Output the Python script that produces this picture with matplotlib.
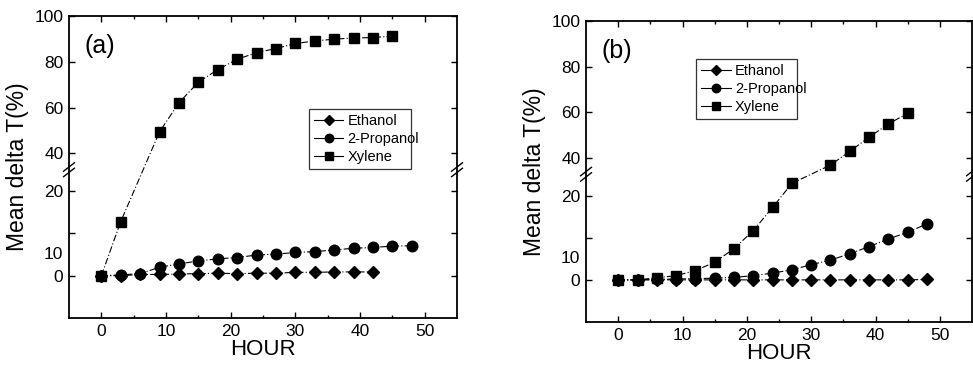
import numpy as np
import matplotlib
matplotlib.use("Agg")
import matplotlib.pyplot as plt

plt.rcParams['font.family'] = ['Liberation Sans', 'DejaVu Sans']

# panel (a)
hours_a = [0, 3, 6, 9, 12, 15, 18, 21, 24, 27, 30, 33, 36, 39, 42, 45, 48]
ethanol_a = [0, 0, 0.3, 0.3, 0.4, 0.5, 0.6, 0.5, 0.6, 0.6, 0.8, 0.8, 0.9, 0.9, 0.9]
propanol_a = [0, 0.2, 0.5, 2.0, 2.8, 3.5, 4.0, 4.3, 4.9, 5.1, 5.5, 5.7, 6.1, 6.5, 6.7, 7.0, 7.1]
xylene_hours_a = [0, 3, 9, 12, 15, 18, 21, 24, 27, 30, 33, 36, 39, 42, 45]
xylene_a = [0, 12.8, 49.4, 62.1, 71.1, 76.6, 81.1, 84.0, 85.8, 88.0, 89.1, 89.9, 90.4, 90.6, 91.2]

# panel (b)
hours_b = [0, 3, 6, 9, 12, 15, 18, 21, 24, 27, 30, 33, 36, 39, 42, 45, 48]
ethanol_b = [0, 0, 0, 0, 0, 0, 0, 0, 0, 0, 0, 0, 0, 0, 0, 0, 0.1]
propanol_b = [0, 0, 0.1, 0.2, 0.3, 0.4, 0.6, 1.0, 1.6, 2.4, 3.6, 4.7, 6.2, 7.9, 9.7, 11.3, 13.3]
xylene_hours_b = [0, 3, 6, 9, 12, 15, 18, 21, 24, 27, 33, 36, 39, 42, 45]
xylene_b = [0, 0, 0.5, 1.0, 2.2, 4.2, 7.4, 11.7, 17.2, 22.9, 36.9, 42.9, 49.1, 54.9, 59.6]

ytick_vals = [0, 10, 20, 40, 60, 80, 100]
ytick_labels = ['0', '', '20', '40', '60', '80', '100']

# broken axis: 25..33 removed, lower part stretched
brk_v = [-10, 25, 33, 100]
brk_h = [0, 49, 49.2, 100]


def fwd(v):
    return np.interp(v, brk_v, brk_h)


def inv(h):
    return np.interp(h, brk_h, brk_v)


def draw_panel(ax, tag, ha, eth, pro, xha, xyl, leg_box):
    ls = (0, (6, 2, 1, 2))
    ax.set_yscale('function', functions=(fwd, inv))
    ax.plot(ha[:len(eth)], eth, linestyle=ls, lw=0.8, color='k', marker='D',
            ms=6.6, label='Ethanol', zorder=4)
    ax.plot(ha[:len(pro)], pro, linestyle=ls, lw=0.8, color='k', marker='o',
            ms=7.6, label='2-Propanol', zorder=3)
    ax.plot(xha, xyl, linestyle=ls, lw=0.8, color='k', marker='s',
            ms=7.4, label='Xylene', zorder=2)
    ax.set_xlim(-5, 55)
    ax.set_ylim(-10, 100)
    ax.set_xticks([0, 10, 20, 30, 40, 50])
    ax.set_xticks([5, 15, 25, 35, 45], minor=True)
    ax.set_yticks(ytick_vals)
    ax.set_yticklabels(ytick_labels)
    ax.yaxis.set_minor_locator(matplotlib.ticker.NullLocator())
    ax.tick_params(which='both', direction='in', top=True, right=True,
                   labelsize=12.5, width=1.0)
    ax.tick_params(which='major', length=4)
    ax.tick_params(which='minor', length=2.5)
    ax.tick_params(axis='y', pad=4)
    ax.tick_params(axis='x', pad=4)
    for s in ax.spines.values():
        s.set_linewidth(1.3)
    # misplaced "10" label as in the original
    ax.text(-0.016, 5, '10', transform=ax.get_yaxis_transform(), ha='right',
            va='center', fontsize=12.5)
    ax.set_xlabel('HOUR', fontsize=16, labelpad=0)
    ax.set_ylabel('Mean delta T(%)', fontsize=16.5, labelpad=4)
    ax.text(-2.6, 0.9, tag, transform=ax.get_xaxis_transform(), fontsize=18,
            va='center', ha='left')
    # break marks
    yb = fwd(29) / 100.0
    for xs in (0, 1):
        for off in (-0.009, 0.009):
            ax.plot([xs - 0.014, xs + 0.014], [yb + off - 0.014, yb + off + 0.014],
                    transform=ax.transAxes, color='k', lw=1.0, clip_on=False,
                    zorder=6)
    leg = ax.legend(loc='lower left', bbox_to_anchor=leg_box, mode='expand',
                    fontsize=10.5, frameon=True, fancybox=False, edgecolor='k',
                    handlelength=2.0, handletextpad=0.3, borderpad=0.35,
                    labelspacing=0.25, markerscale=0.8)
    leg.get_frame().set_linewidth(0.9)
    for h in leg.get_lines():
        h.set_linestyle('-')


fig = plt.figure(figsize=(9.73, 3.70), dpi=100)
ax_a = fig.add_axes([0.0709, 0.1405, 0.3988, 0.8162])
ax_b = fig.add_axes([0.6023, 0.1297, 0.3967, 0.8135])

draw_panel(ax_a, '(a)', hours_a, ethanol_a, propanol_a, xylene_hours_a, xylene_a,
           (0.60, 0.47, 0.30, 0.23))
draw_panel(ax_b, '(b)', hours_b, ethanol_b, propanol_b, xylene_hours_b, xylene_b,
           (0.267, 0.651, 0.298, 0.233))

fig.savefig('out.png', dpi=100)
